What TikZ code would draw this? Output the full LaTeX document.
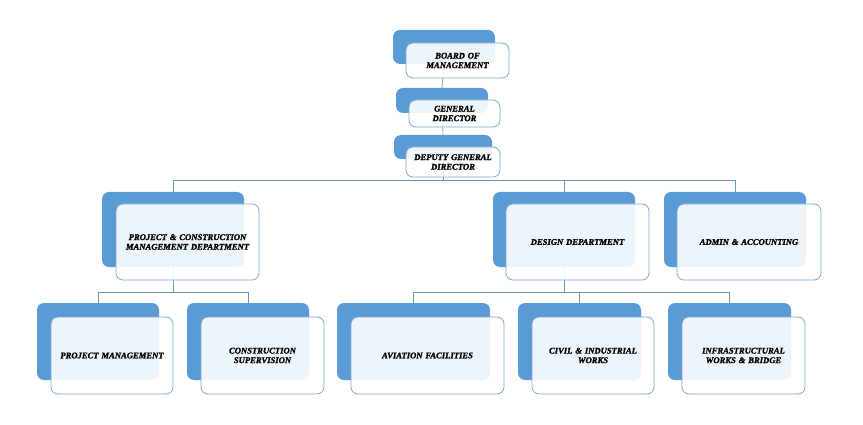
\documentclass[tikz,border=0pt]{standalone}
\usepackage{fontspec}
\setmainfont{Liberation Serif}[BoldItalicFeatures={FakeBold=1.5}]
\usetikzlibrary{backgrounds}
\definecolor{backblue}{HTML}{5B9BD5}
\definecolor{edgeblue}{HTML}{7EA6D3}
\definecolor{linkblue}{HTML}{6E93BD}
\tikzset{
  backbox/.style={draw=none, fill=backblue, rounded corners=#1, inner sep=0pt},
  backbox/.default=7pt,
  frontbox/.style={draw=edgeblue, line width=0.8pt, fill=white, fill opacity=0.9, text opacity=1,
    rounded corners=#1, inner sep=0pt, align=center,
    font=\fontsize{8.6}{9.6}\selectfont\bfseries\itshape},
  frontbox/.default=7pt,
  link/.style={draw=linkblue, line width=0.6pt}
}
\newcommand{\orgunit}[9]{%
  % #1 name, #2 x1 #3 y1 #4 x2 #5 y2 back; #6 x1 #7 y1 #8 x2 #9 y2 front
  \node[backbox, minimum width=#4-#2, minimum height=#5-#3] (#1b) at ({(#2+#4)/2},{(#3+#5)/2}) {};
  \node[frontbox, minimum width=#8-#6, minimum height=#9-#7, text width=#8-#6-8] (#1) at ({(#6+#8)/2},{(#7+#9)/2}) {\orgtext};
}
\begin{document}
\begin{tikzpicture}[x=1pt,y=-1pt]
\useasboundingbox (0,0) rectangle (863,425);
% top chain
\def\orgtext{BOARD OF\\MANAGEMENT}
\orgunit{bm}{393}{30}{495}{64}{406}{43}{509}{78}
\def\orgtext{GENERAL\\DIRECTOR}
\orgunit{gd}{396}{88}{488}{113}{409}{100}{500}{127}
\def\orgtext{DEPUTY GENERAL\\DIRECTOR}
\orgunit{dg}{394}{135}{492}{159}{406}{147}{500}{177}
% second row
\def\orgtext{PROJECT \& CONSTRUCTION\\MANAGEMENT DEPARTMENT}
\orgunit{pcm}{102}{192}{244}{267}{116}{204}{259}{280}
\def\orgtext{DESIGN DEPARTMENT}
\orgunit{dd}{493}{192}{635}{267}{506}{204}{649}{280}
\def\orgtext{ADMIN \& ACCOUNTING}
\orgunit{aa}{664}{192}{806}{267}{677}{204}{821}{280}
% third row
\def\orgtext{PROJECT MANAGEMENT}
\orgunit{pm}{37}{303}{159}{380}{51}{317}{173}{394}
\def\orgtext{CONSTRUCTION\\SUPERVISION}
\orgunit{cs}{187}{303}{309}{380}{201}{317}{324}{394}
\def\orgtext{AVIATION FACILITIES}
\orgunit{af}{337}{303}{490}{380}{351}{317}{504}{394}
\def\orgtext{CIVIL \& INDUSTRIAL\\WORKS}
\orgunit{ci}{518}{303}{641}{380}{532}{317}{654}{394}
\def\orgtext{INFRASTRUCTURAL\\WORKS \& BRIDGE}
\orgunit{iw}{668}{303}{791}{380}{682}{317}{805}{394}
% connectors
\coordinate (j1) at (443,180);
\coordinate (j2) at (173,292);
\coordinate (j3) at (564,292);
\begin{pgfonlayer}{background}
\draw[link] (bmb.south) -- (gdb.north);
\draw[link] (gdb.south) -- (dgb.north);
\draw[link] (dgb.south) -- (j1);
\draw[link] (j1) -| (pcmb.north);
\draw[link] (j1) -| (ddb.north);
\draw[link] (j1) -| (aab.north);
\draw[link] (pcmb.south) -- (j2);
\draw[link] (j2) -| (pmb.north);
\draw[link] (j2) -| (csb.north);
\draw[link] (ddb.south) -- (j3);
\draw[link] (j3) -| (afb.north);
\draw[link] (j3) -| (cib.north);
\draw[link] (j3) -| (iwb.north);
\end{pgfonlayer}
\end{tikzpicture}
\end{document}
